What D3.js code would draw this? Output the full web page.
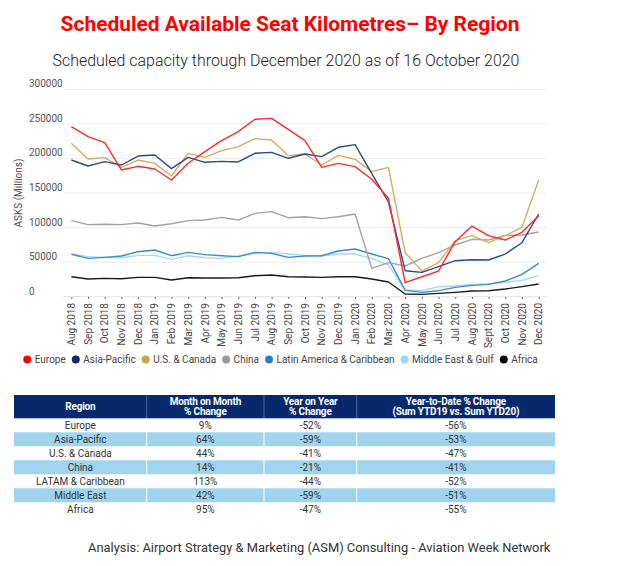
<!DOCTYPE html>
<html><head><meta charset="utf-8">
<script src="https://cdn.jsdelivr.net/npm/d3@7"></script>
<style>body{margin:0;background:#fff;font-family:Roboto,sans-serif}</style>
</head><body>
<svg id="c" width="629" height="566"></svg>
<script>
const months = ["Aug 2018","Sep 2018","Oct 2018","Nov 2018","Dec 2018","Jan 2019","Feb 2019","Mar 2019","Apr 2019","May 2019","Jun 2019","Jul 2019","Aug 2019","Sep 2019","Oct 2019","Nov 2019","Dec 2019","Jan 2020","Feb 2020","Mar 2020","Apr 2020","May 2020","Jun 2020","Jul 2020","Aug 2020","Sept 2020","Oct 2020","Nov 2020","Dec 2020"];
const europe = [246000,231500,222800,183300,188600,184700,168800,193000,209800,225700,238700,256600,258000,242100,225700,187100,192900,188100,169800,142300,20300,28900,37100,79600,102200,88300,82000,93100,117200];
const asiaPacific = [197700,189100,195300,190500,203500,205000,185200,201600,194400,195800,194900,207400,208800,200200,206400,202600,216100,219900,178000,137000,37600,35200,43400,52100,53500,53100,61700,78100,119600];
const usCanada = [221900,199200,201100,187100,197700,192900,174600,207400,201600,211300,217000,228600,226700,204000,206400,190500,204500,198700,180900,187100,63700,37100,49200,81000,88300,78100,88300,100300,168800];
const china = [110000,104200,104700,104200,106600,102200,105600,110000,110900,114800,110900,120600,123000,114300,115700,112900,115700,119600,41000,49200,44400,55500,63700,74800,83000,82000,88700,89200,93600];
const latinAmerica = [61300,55500,56900,58800,65100,67500,59300,64100,60800,59300,57900,64100,62700,56900,58800,59300,66100,69000,61700,55000,9200,6300,8700,13500,16400,17800,22700,32300,48200];
const middleEast = [62200,57900,56900,56400,59800,59800,54000,59300,56400,55500,58800,62700,64100,61700,59800,58800,61700,61700,55500,45800,9600,8700,14500,15400,17800,18800,20700,23600,30400];
const africa = [28900,25600,26500,26000,28000,28000,24100,27500,27000,27000,27500,30400,31300,28900,28500,28000,28900,28900,25600,21200,3900,3400,4800,6300,8200,8700,11100,14500,18300];
const yTicks = [0,50000,100000,150000,200000,250000,300000];

const seriesNames = ["Europe","Asia-Pacific","U.S. & Canada","China","Latin America & Caribbean","Middle East & Gulf","Africa"];
const lineColors = ["#ff2a2a","#2a4b85","#d2ad62","#a3a3a3","#3a8cc6","#a6d8f3","#1a1a1a"];
const dotColors = ["#ff0000","#0b2a6b","#c9a24a","#9a9a9a","#2a80c0","#a2d5f2","#000000"];

const tableHeader = [["Region"],["Month on Month","% Change"],["Year on Year","% Change"],["Year-to-Date % Change","(Sum YTD19 vs. Sum YTD20)"]];
const tableRegions = ["Europe","Asia-Pacific","U.S. & Canada","China","LATAM & Caribbean","Middle East","Africa"];
const tableMoM = ["9%","64%","44%","14%","113%","42%","95%"];
const tableYoY = ["-52%","-59%","-41%","-21%","-44%","-59%","-47%"];
const tableYTD = ["-56%","-53%","-47%","-41%","-52%","-51%","-55%"];

const allSeries = [europe,asiaPacific,usCanada,china,latinAmerica,middleEast,africa];
const svg = d3.select("#c");

function fitText(sel, width){
  const fs = parseFloat(sel.attr("font-size"));
  const w = sel.node().getComputedTextLength();
  sel.attr("font-size", (fs*width/w).toFixed(2));
}

// titles
const t1 = svg.append("text").attr("x",290).attr("y",31).attr("text-anchor","middle")
  .attr("font-size",20).attr("font-weight","bold").attr("fill","#ff0000")
  .text("Scheduled Available Seat Kilometres\u2013 By Region");
fitText(t1, 459);
const t2 = svg.append("text").attr("x",286).attr("y",66).attr("text-anchor","middle")
  .attr("font-size",15).attr("font-weight",300).attr("fill","#222")
  .text("Scheduled capacity through December 2020 as of 16 October 2020");
fitText(t2, 467);

// scales
const x = d3.scalePoint().domain(months).range([63,547]).padding(0.5);
const y = d3.scaleLinear().domain([0,300000]).range([296.7,89.3]);

// grid
svg.append("g").selectAll("line").data(yTicks).join("line")
  .attr("x1",63).attr("x2",547).attr("y1",d=>y(d)).attr("y2",d=>y(d))
  .attr("stroke",d=>d===0?"#e2e2e2":"#ececec").attr("stroke-width",1);
svg.append("g").selectAll("text").data(yTicks).join("text")
  .attr("x",29).attr("y",d=>y(d)-2).attr("font-size",10).attr("fill","#555")
  .text(d=>d);

// y title
svg.append("text").attr("transform","translate(22,193) rotate(-90)")
  .attr("text-anchor","middle").attr("font-size",10).attr("fill","#555").text("ASKS (Millions)");

// x axis
const xAxis = svg.append("g").attr("transform","translate(0,297)")
  .call(d3.axisBottom(x).tickSize(2).tickPadding(3));
xAxis.select(".domain").remove();
xAxis.selectAll(".tick line").attr("stroke","#666");
xAxis.selectAll(".tick text").attr("font-family","Roboto").attr("font-size",10).attr("fill","#444")
  .attr("text-anchor","end").attr("transform","rotate(-90)").attr("dx","-0.3em").attr("dy","0.32em").attr("y",0).attr("x",-3);

// lines
const line = d3.line().x((d,i)=>x(months[i])).y(d=>y(d));
svg.append("g").selectAll("path").data(allSeries.map((s,i)=>({s,i})).reverse()).join("path")
  .attr("d",d=>line(d.s)).attr("fill","none").attr("stroke",d=>lineColors[d.i]).attr("stroke-width",1.4)
  .attr("stroke-linejoin","round");

// legend
const lg = svg.append("g");
let lx = 0;
seriesNames.forEach((n,i)=>{
  const g = lg.append("g");
  g.append("circle").attr("cx",lx+4).attr("cy",-3.4).attr("r",4).attr("fill",dotColors[i]);
  const t = g.append("text").attr("x",lx+11.5).attr("y",0).attr("font-size",10).attr("fill","#444").text(n);
  lx += 11.5 + t.node().getComputedTextLength() + 6;
});
const lw = lx - 6;
lg.attr("transform",`translate(${(25+536)/2 - lw/2},363)`);

// table
const cols = [14,146.7,264,356.7,555];
const hTop = 395, hBot = 418.3, rowH = 14;
const tb = svg.append("g");
tb.append("rect").attr("x",cols[0]).attr("y",hTop).attr("width",cols[4]-cols[0]).attr("height",hBot-hTop).attr("fill","#05296b");
tableRegions.forEach((r,i)=>{
  const ry = hBot + i*rowH;
  if(i%2===1) tb.append("rect").attr("x",cols[0]).attr("y",ry).attr("width",cols[4]-cols[0]).attr("height",rowH).attr("fill","#a0d3ee");
  const vals = [r, tableMoM[i], tableYoY[i], tableYTD[i]];
  vals.forEach((v,j)=>{
    tb.append("text").attr("x",(cols[j]+cols[j+1])/2).attr("y",ry+rowH/2+3.6).attr("text-anchor","middle")
      .attr("font-size",10).attr("fill","#333").text(v);
  });
});
[1,2,3].forEach(j=>{
  tb.append("line").attr("x1",cols[j]).attr("x2",cols[j]).attr("y1",hTop).attr("y2",hBot).attr("stroke","#5f7aaa").attr("stroke-width",0.8);
  tb.append("line").attr("x1",cols[j]).attr("x2",cols[j]).attr("y1",hBot).attr("y2",hBot+7*rowH).attr("stroke","#ffffff").attr("stroke-width",1);
});
tableHeader.forEach((h,j)=>{
  const cx = (cols[j]+cols[j+1])/2;
  const t = tb.append("text").attr("x",cx).attr("text-anchor","middle").attr("font-size",10)
    .attr("font-weight","bold").attr("fill","#fff").attr("letter-spacing","-0.2");
  if(h.length===1){ t.attr("y",410.3).text(h[0]); }
  else {
    t.append("tspan").attr("x",cx).attr("y",404.5).text(h[0]);
    t.append("tspan").attr("x",cx).attr("y",415).text(h[1]);
  }
});

// footer
const ft = svg.append("text").attr("x",88).attr("y",552).attr("font-size",12).attr("fill","#333")
  .text("Analysis: Airport Strategy & Marketing (ASM) Consulting - Aviation Week Network");
fitText(ft, 463);
</script>
</body></html>
